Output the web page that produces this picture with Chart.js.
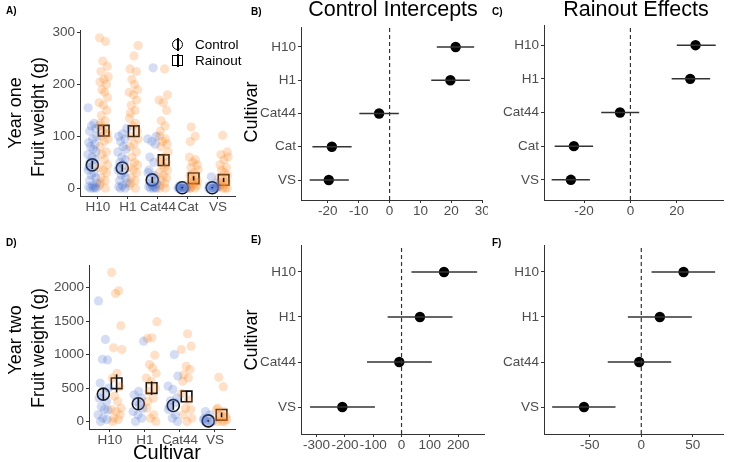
<!DOCTYPE html>
<html>
<head>
<meta charset="utf-8">
<script src="https://cdn.jsdelivr.net/npm/chart.js@4.4.1/dist/chart.umd.min.js"></script>
<style>
body{margin:0;background:#fff;width:729px;height:462px;position:relative;overflow:hidden;font-family:"Liberation Sans",Arial,sans-serif}
canvas{position:absolute}
.t{position:absolute;white-space:nowrap;color:#000;line-height:1}
.lab{font-weight:bold;font-size:10px}
.ttl{font-size:21.5px;transform:translateX(-50%)}
.rot{font-size:18px;transform:translate(-50%,-50%) rotate(-90deg)}
.leg{font-size:13.5px}
.sym{position:absolute;width:9px;height:9px;border:1.5px solid #000;box-sizing:content-box}
.sym:after{content:"";position:absolute;left:4px;top:-2px;width:1.5px;height:13px;background:#000}
</style>
</head>
<body>
<canvas id="cA" width="245" height="222" style="left:0;top:0"></canvas>
<canvas id="cB" width="243" height="222" style="left:245px;top:0"></canvas>
<canvas id="cC" width="239" height="222" style="left:490px;top:0"></canvas>
<canvas id="cD" width="245" height="237" style="left:0;top:225px"></canvas>
<canvas id="cE" width="245" height="237" style="left:245px;top:225px"></canvas>
<canvas id="cF" width="239" height="237" style="left:490px;top:225px"></canvas>

<div class="t lab" style="left:6px;top:6px">A)</div>
<div class="t lab" style="left:251px;top:7px">B)</div>
<div class="t lab" style="left:492px;top:7px">C)</div>
<div class="t lab" style="left:6px;top:238px">D)</div>
<div class="t lab" style="left:251px;top:235px">E)</div>
<div class="t lab" style="left:492px;top:238px">F)</div>

<div class="t ttl" style="left:393px;top:-1px">Control Intercepts</div>
<div class="t ttl" style="left:636px;top:-1px">Rainout Effects</div>

<div class="t rot" style="left:15px;top:113px">Year one</div>
<div class="t rot" style="left:38px;top:117px">Fruit weight (g)</div>
<div class="t rot" style="left:15px;top:340px">Year two</div>
<div class="t rot" style="left:38px;top:348px">Fruit weight (g)</div>
<div class="t rot" style="left:251px;top:112px">Cultivar</div>
<div class="t rot" style="left:251px;top:340px">Cultivar</div>
<div class="t" style="left:167px;top:442px;font-size:20px;transform:translateX(-50%)">Cultivar</div>

<div class="sym" style="left:172px;top:39px;border-radius:50%"></div>
<div class="t leg" style="left:195px;top:38px">Control</div>
<div class="sym" style="left:172px;top:55px"></div>
<div class="t leg" style="left:195px;top:54px">Rainout</div>

<script>
// ---- data ----
const cultivarsY1 = ['H10', 'H1', 'Cat44', 'Cat', 'VS'];
const cultivarsY2 = ['H10', 'H1', 'Cat44', 'VS'];

// year one raw fruit weights (g), one list per cultivar
const y1Control = [
  [155, 125, 120, 115, 110, 100, 95, 88, 85, 80, 75, 70, 65, 60, 55, 50, 45, 40, 35, 30, 25, 20, 15, 10, 5, 3, 2, 0, 0, 0],
  [115, 105, 100, 95, 90, 80, 75, 70, 60, 55, 50, 45, 40, 35, 30, 25, 20, 15, 10, 5, 3, 0, 0],
  [232, 100, 95, 90, 85, 60, 50, 35, 30, 25, 20, 15, 10, 8, 5, 3, 2, 0, 0, 0],
  [5, 3, 2, 0, 0, 0, 0, 0, 0, 0],
  [22, 10, 5, 3, 0, 0, 0, 0, 0, 0]
];
const y1Rainout = [
  [290, 283, 245, 235, 225, 215, 210, 205, 200, 190, 185, 175, 165, 160, 150, 140, 130, 125, 120, 115, 110, 105, 100, 95, 90, 80, 70, 65, 55, 45, 40, 35, 30, 20, 15, 10, 5, 0],
  [275, 255, 230, 225, 210, 200, 190, 185, 180, 170, 160, 150, 145, 135, 125, 120, 110, 100, 95, 85, 80, 70, 60, 50, 45, 40, 35, 30, 20, 15, 10, 5, 0],
  [230, 180, 170, 165, 150, 130, 120, 110, 100, 95, 90, 85, 80, 70, 60, 55, 50, 45, 40, 35, 30, 25, 20, 15, 10, 5, 0, 0],
  [118, 100, 90, 60, 55, 50, 45, 40, 35, 30, 25, 20, 18, 15, 12, 10, 8, 5, 3, 0, 0, 0],
  [102, 70, 65, 60, 55, 45, 40, 35, 30, 25, 20, 15, 12, 10, 8, 5, 3, 0, 0, 0]
];
const y1CtrlMean = [45, 39, 16, 1, 1];
const y1CtrlSE = [8, 7, 6, 1, 1];
const y1RainMean = [111, 110, 54, 19, 16];
const y1RainSE = [9, 10, 9, 4, 4];

// year two raw fruit weights (g)
const y2Control = [
  [1800, 1225, 930, 920, 575, 500, 420, 350, 300, 220, 180, 170, 100, 50, 30, 0],
  [1200, 450, 400, 350, 300, 250, 200, 150, 100, 50, 0],
  [1000, 680, 530, 480, 350, 310, 280, 220, 180, 100, 50, 0],
  [150, 100, 50, 30, 0, 0, 0, 0]
];
const y2Rainout = [
  [2225, 1950, 1910, 1430, 1100, 1075, 720, 650, 520, 380, 300, 200, 180, 150, 100, 50, 30, 0],
  [1490, 1250, 1240, 990, 850, 800, 720, 650, 600, 500, 450, 350, 300, 200, 100, 50, 0],
  [1310, 1125, 1075, 825, 775, 700, 650, 600, 420, 320, 200, 180, 100, 50, 0],
  [660, 520, 200, 180, 150, 100, 80, 50, 30, 0, 0, 0]
];
const y2CtrlMean = [410, 265, 240, 10];
const y2CtrlSE = [85, 85, 65, 10];
const y2RainMean = [570, 500, 375, 100];
const y2RainSE = [135, 100, 85, 35];

// model estimates (B, C: year one; E, F: year two)
const ctrlEst1 = [21.4, 19.7, -3.4, -18.7, -19.7];
const ctrlLo1 = [15.3, 13.5, -9.8, -25, -25.9];
const ctrlHi1 = [27.4, 26, 3, -12.3, -13.2];
const rainEst1 = [28.1, 25.8, -4.5, -24.4, -25.7];
const rainLo1 = [20, 17.8, -12.6, -32.7, -34];
const rainHi1 = [36.8, 34.4, 3.8, -16.1, -17.5];
const ctrlEst2 = [150, 65, -8, -209];
const ctrlLo2 = [35, -49, -122, -323];
const ctrlHi2 = [267, 180, 107, -94];
const rainEst2 = [41, 18, -2, -55.5];
const rainLo2 = [10, -13, -32.5, -86.4];
const rainHi2 = [71.6, 49, 29, -25];

// tick labels
const ticksA = [0, 100, 200, 300];
const ticksD = [0, 500, 1000, 1500, 2000];
const ticksB = [-20, -10, 0, 10, 20, 30];
const ticksC = [-20, 0, 20];
const ticksE = [-300, -200, -100, 0, 100, 200];
const ticksF = [-50, 0, 50];

// fixed horizontal jitter pattern for the raw points (category units)
const jit = [-0.14, 0.06, -0.03, 0.12, -0.09, 0.15, 0.01, -0.12, 0.09, -0.06, 0.03, 0.13, -0.15, -0.01, 0.1, -0.08, 0.05, -0.11];

// ---- helpers ----
const tickFont = {family: "'Liberation Sans', Arial, sans-serif", size: 13.5};
const tickColor = '#4d4d4d';
const axisColor = '#333';

const errBars = {
  id: 'errBars',
  afterDatasetsDraw(chart, args, opts) {
    const ctx = chart.ctx, x = chart.scales.x, y = chart.scales.y;
    ctx.save();
    ctx.strokeStyle = opts.color;
    ctx.lineWidth = opts.width;
    opts.bars.forEach(b => {
      ctx.beginPath();
      if (opts.horizontal) {
        ctx.moveTo(x.getPixelForValue(b.lo), y.getPixelForValue(b.at));
        ctx.lineTo(x.getPixelForValue(b.hi), y.getPixelForValue(b.at));
      } else {
        ctx.moveTo(x.getPixelForValue(b.at), y.getPixelForValue(b.lo));
        ctx.lineTo(x.getPixelForValue(b.at), y.getPixelForValue(b.hi));
      }
      ctx.stroke();
    });
    ctx.restore();
  }
};

function scaleOpts(min, max, vals, fmt, size, isY) {
  return {
    type: 'linear', min: min, max: max,
    afterBuildTicks: s => { s.ticks = vals.map(v => ({value: v})); },
    afterFit: s => {
      if (isY) { s.width = size; s.paddingTop = 0; s.paddingBottom = 0; }
      else { s.height = size; s.paddingLeft = 0; s.paddingRight = 0; }
    },
    ticks: {autoSkip: false, maxRotation: 0, minRotation: 0, padding: isY ? 2 : 0, color: tickColor, font: tickFont, callback: fmt},
    grid: {display: true, drawOnChartArea: false, drawTicks: true, tickLength: 3, color: axisColor},
    border: {display: true, color: axisColor, width: 1}
  };
}

function rawPanel(id, cats, ctrl, rain, cMean, cSE, rMean, rSE, yMin, yMax, yTicks, lay) {
  const dodge = 0.19;
  const pts = (groups, sign) => groups.flatMap((g, i) =>
    g.map((v, j) => ({x: i + 1 + sign * dodge + jit[(j + i * 5) % jit.length], y: v})));
  const means = (m, sign) => m.map((v, i) => ({x: i + 1 + sign * dodge, y: v}));
  const bars = cMean.map((v, i) => ({at: i + 1 - dodge, lo: v - cSE[i], hi: v + cSE[i]}))
    .concat(rMean.map((v, i) => ({at: i + 1 + dodge, lo: v - rSE[i], hi: v + rSE[i]})));
  new Chart(document.getElementById(id), {
    type: 'scatter',
    data: {
      datasets: [
        {data: pts(ctrl, -1), pointRadius: 4.6, backgroundColor: 'rgba(60,100,200,0.22)', borderWidth: 0},
        {data: pts(rain, 1), pointRadius: 4.6, backgroundColor: 'rgba(250,135,35,0.25)', borderWidth: 0},
        {data: means(cMean, -1), pointStyle: 'circle', pointRadius: 6, backgroundColor: 'rgba(0,0,0,0)', borderColor: '#111', borderWidth: 1.6},
        {data: means(rMean, 1), pointStyle: 'rect', pointRadius: 7.5, backgroundColor: 'rgba(0,0,0,0)', borderColor: '#111', borderWidth: 1.6}
      ]
    },
    options: {
      responsive: false, animation: false,
      layout: {padding: lay.pad},
      plugins: {legend: {display: false}, tooltip: {enabled: false},
        errBars: {bars: bars, horizontal: false, color: '#111', width: 1.6}},
      scales: {
        x: scaleOpts(0.4, cats.length + 0.6, cats.map((c, i) => i + 1), v => cats[v - 1], lay.xh, false),
        y: scaleOpts(yMin, yMax, yTicks, v => v, lay.yw, true)
      }
    },
    plugins: [errBars]
  });
}

function forestPanel(id, cats, est, lo, hi, xMin, xMax, xTicks, lay) {
  const n = cats.length;
  new Chart(document.getElementById(id), {
    type: 'scatter',
    data: {
      datasets: [
        {type: 'line', data: [{x: 0, y: 0.4}, {x: 0, y: n + 0.6}], borderColor: '#333', borderWidth: 1.2,
          borderDash: [4, 3], pointRadius: 0, fill: false},
        {data: est.map((v, i) => ({x: v, y: n - i})), pointRadius: 5.2, backgroundColor: '#000', borderWidth: 0}
      ]
    },
    options: {
      responsive: false, animation: false,
      layout: {padding: lay.pad},
      plugins: {legend: {display: false}, tooltip: {enabled: false},
        errBars: {bars: lo.map((v, i) => ({at: n - i, lo: v, hi: hi[i]})), horizontal: true, color: '#333', width: 1.5}},
      scales: {
        x: scaleOpts(xMin, xMax, xTicks, v => v, lay.xh, false),
        y: scaleOpts(0.4, n + 0.6, cats.map((c, i) => n - i), v => cats[n - v], lay.yw, true)
      }
    },
    plugins: [errBars]
  });
}

// ---- panels ----
rawPanel('cA', cultivarsY1, y1Control, y1Rainout, y1CtrlMean, y1CtrlSE, y1RainMean, y1RainSE, -15, 305, ticksA,
  {pad: {top: 30, right: 7, left: 0, bottom: 0}, xh: 26, yw: 80});
rawPanel('cD', cultivarsY2, y2Control, y2Rainout, y2CtrlMean, y2CtrlSE, y2RainMean, y2RainSE, -111, 2336, ticksD,
  {pad: {top: 40, right: 6, left: 0, bottom: 0}, xh: 33, yw: 89});

forestPanel('cB', cultivarsY1, ctrlEst1, ctrlLo1, ctrlHi1, -28.7, 30.2, ticksB,
  {pad: {top: 27, right: 3, left: 0, bottom: 0}, xh: 22, yw: 56});
forestPanel('cC', cultivarsY1, rainEst1, rainLo1, rainHi1, -37.3, 40.3, ticksC,
  {pad: {top: 25, right: 1, left: 0, bottom: 0}, xh: 22, yw: 54});
forestPanel('cE', cultivarsY2, ctrlEst2, ctrlLo2, ctrlHi2, -355, 294, ticksE,
  {pad: {top: 20, right: 5, left: 0, bottom: 0}, xh: 28, yw: 56});
forestPanel('cF', cultivarsY2, rainEst2, rainLo2, rainHi2, -94.3, 80, ticksF,
  {pad: {top: 20, right: 1, left: 0, bottom: 0}, xh: 28, yw: 54});
</script>
</body>
</html>
